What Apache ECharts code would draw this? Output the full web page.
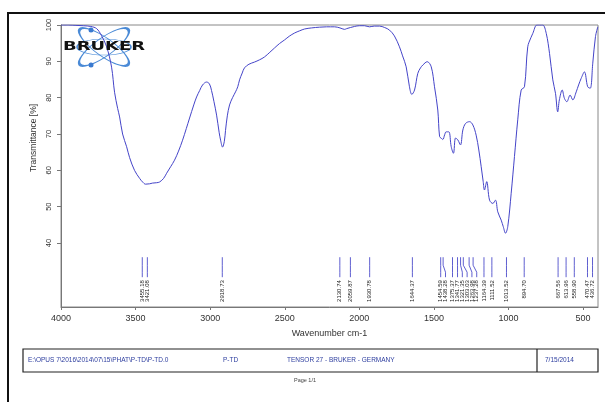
<!DOCTYPE html>
<html>
<head>
<meta charset="utf-8">
<script src="https://cdn.jsdelivr.net/npm/echarts@6/dist/echarts.min.js"></script>
<style>
html,body{margin:0;padding:0;background:#fff;}
#chart{width:605px;height:402px;}
</style>
</head>
<body>
<div id="chart"></div>
<script>
// FT-IR spectrum, wavenumber (cm-1) vs transmittance (%)
const wavenumbers = [4000,3950,3900,3850,3800,3761,3730,3694,3661,3641,3620,3607,3587,3560,3540,3507,3473,3453,3433,3406,3386,3359,3339,3312,3292,3265,3239,3212,3185,3160,3138,3110,3091,3070,3051,3024,3005,2991,2975,2957,2940,2930,2917,2905,2897,2885,2870,2850,2830,2815,2803,2785,2770,2740,2703,2670,2636,2600,2568,2535,2501,2470,2434,2400,2367,2320,2267,2220,2166,2130,2110,2099,2085,2060,2032,2000,1965,1932,1900,1865,1830,1798,1765,1731,1710,1686,1664,1648,1630,1608,1590,1574,1545,1518,1496,1474,1462,1450,1440,1428,1418,1400,1384,1369,1355,1340,1322,1306,1288,1261,1239,1217,1199,1183,1170,1161,1146,1127,1105,1087,1072,1049,1035,1020,1005,982,960,938,915,893,871,850,837,810,790,770,747,725,703,685,670,659,640,625,609,587,569,546,530,513,491,469,452,435,417,401];
const transmittance = [100,100,99.9,99.8,99.6,99.0,97.2,94.0,88.4,81.5,77.0,74.7,70.0,66.5,63.5,60.0,57.8,56.8,56.2,56.3,56.5,56.6,56.8,57.8,59.2,61.0,62.8,65.3,68.3,71.5,74.4,78.0,80.2,82.0,83.5,84.3,83.8,82.0,79.0,75.2,70.5,68.3,66.4,68.0,71.0,75.0,78.0,80.0,81.6,83.0,84.9,86.8,88.2,89.2,89.8,90.4,91.2,92.5,93.7,94.9,95.9,96.9,97.8,98.4,98.9,99.2,99.4,99.5,99.5,99.2,98.9,98.8,99.0,99.3,99.6,99.8,99.8,99.5,99.7,99.7,99.3,98.6,97.0,94.0,91.5,88.5,83.0,80.9,82.1,86.7,88.2,89.0,89.9,88.5,83.0,76.6,69.3,68.8,68.5,69.8,70.6,70.6,66.5,64.7,68.9,68.4,67.0,71.1,72.9,73.4,72.5,69.7,65.6,61.0,57.0,54.6,56.9,51.8,50.9,51.8,48.6,46.3,44.5,42.7,44.5,53.7,63.8,73.9,82.1,83.0,94.0,96.5,97.7,100,100,100,97.7,92.2,84.9,81.2,76.1,79.4,82.1,79.8,78.9,80.7,79.4,81.6,83.5,85.3,87.1,83.0,82.6,89.5,96.8,99.5];

// Picked peaks
const peakWavenumbers = [3455.18,3421.08,2918.73,2130.74,2059.87,1930.78,1644.37,1454.59,1438.28,1375.37,1341.77,1321.35,1303.03,1263.98,1237.28,1164.39,1111.52,1013.52,894.70,667.56,613.96,558.90,470.47,436.72];
const peakLabels = ['3455.18','3421.08','2918.73','2130.74','2059.87','1930.78','1644.37','1454.59','1438.28','1375.37','1341.77','1321.35','1303.03','1263.98','1237.28','1164.39','1111.52','1013.52','894.70','667.56','613.96','558.90','470.47','436.72'];

// Axis ticks
const xTickValues = [4000,3500,3000,2500,2000,1500,1000,500];
const yTickValues = [40,50,60,70,80,90,100];

// Footer texts
const footerPath = 'E:\\OPUS 7\\2016\\2014\\07\\15\\PHAT\\P-TD\\P-TD.0';
const footerSample = 'P-TD';
const footerInstrument = 'TENSOR 27 - BRUKER - GERMANY';
const footerDate = '7/15/2014';
const footerPage = 'Page 1/1';

const MARK_TOP = 36.1;
const MARK_BOTTOM = 30.6;
const LABEL_GAP = 4.8;

const spectrum = wavenumbers.map((w, i) => [w, transmittance[i]]);
const peakData = peakWavenumbers.map((w, i) => [w, MARK_TOP, i]);

const chart = echarts.init(document.getElementById('chart'), null, {renderer: 'canvas'});
const FONT = 'Liberation Sans, Arial, sans-serif';

function renderPeak(params, api) {
  const i = params.dataIndex;
  const xs = peakWavenumbers.map(w => api.coord([w, MARK_TOP])[0]);
  const lx = [];
  xs.forEach((x, k) => lx.push(k === 0 ? x : Math.max(x, lx[k - 1] + LABEL_GAP)));
  const top = api.coord([peakWavenumbers[i], MARK_TOP]);
  const bot = api.coord([peakWavenumbers[i], MARK_BOTTOM]);
  const pts = [[xs[i], top[1]], [xs[i], top[1] + 8], [lx[i], bot[1] - 5], [lx[i], bot[1]]];
  return {
    type: 'group',
    children: [
      {type: 'polyline', shape: {points: pts}, style: {stroke: '#5f5fd0', lineWidth: 1, fill: null}},
      {type: 'text', x: lx[i], y: bot[1] + 3, rotation: Math.PI / 2,
        style: {text: peakLabels[i], font: '6px ' + FONT, fill: '#222', align: 'right', verticalAlign: 'middle'}}
    ]
  };
}

chart.setOption({
  backgroundColor: '#fff',
  animation: false,
  grid: {left: 61, right: 7, top: 25, bottom: 95, show: true, borderColor: '#888', borderWidth: 1, backgroundColor: 'transparent'},
  xAxis: {
    type: 'value', inverse: true, min: 400, max: 4000,
    name: 'Wavenumber cm-1', nameLocation: 'middle', nameGap: 22,
    nameTextStyle: {fontFamily: FONT, fontSize: 9, color: '#333'},
    axisLine: {lineStyle: {color: '#777', width: 1}},
    axisTick: {show: true, length: 3, customValues: xTickValues, lineStyle: {color: '#777'}},
    axisLabel: {customValues: xTickValues, formatter: v => String(v), fontFamily: FONT, fontSize: 9, color: '#333', margin: 7},
    splitLine: {show: false}
  },
  yAxis: {
    type: 'value', min: 22.4, max: 100,
    axisLine: {show: true, lineStyle: {color: '#777', width: 1}},
    axisTick: {show: true, length: 4, customValues: yTickValues, lineStyle: {color: '#777'}},
    axisLabel: {customValues: yTickValues, formatter: v => String(v), rotate: 90, fontFamily: FONT, fontSize: 7.5, color: '#333', margin: 8},
    splitLine: {show: false}
  },
  series: [
    {
      type: 'line', data: spectrum, smooth: 0.35, symbol: 'none',
      lineStyle: {color: '#4444c8', width: 1}, z: 3
    },
    {
      type: 'custom', data: peakData, renderItem: renderPeak,
      encode: {x: 0, y: 1}, silent: true, z: 2
    }
  ],
  graphic: [
    // page frame
    {type: 'line', shape: {x1: 8, y1: 13, x2: 605, y2: 13}, style: {stroke: '#111', lineWidth: 2}},
    {type: 'line', shape: {x1: 8, y1: 12, x2: 8, y2: 402}, style: {stroke: '#111', lineWidth: 2}},
    // y axis title
    {type: 'text', x: 34, y: 138, rotation: Math.PI / 2,
      style: {text: 'Transmittance [%]', font: '8.5px ' + FONT, fill: '#333', align: 'center', verticalAlign: 'middle'}},
    // logo
    {type: 'group', x: 104, y: 47, z: 10, children: [
      {type: 'circle', shape: {cx: 0, cy: 0, r: 30}, scaleX: 1, scaleY: 0.3, rotation: 0.62,
        style: {stroke: '#4a8ad6', lineWidth: 1.6, fill: null, strokeNoScale: true}},
      {type: 'circle', shape: {cx: 0, cy: 0, r: 30}, scaleX: 1, scaleY: 0.3, rotation: -0.62,
        style: {stroke: '#4a8ad6', lineWidth: 1.6, fill: null, strokeNoScale: true}},
      {type: 'circle', shape: {cx: 0, cy: 0, r: 27}, scaleX: 1, scaleY: 0.3, rotation: 0,
        style: {stroke: '#4a8ad6', lineWidth: 1.6, fill: null, strokeNoScale: true}},
      {type: 'circle', shape: {cx: -13, cy: -17, r: 2.5}, style: {fill: '#3a7ad0'}},
      {type: 'circle', shape: {cx: -13, cy: 18, r: 2.5}, style: {fill: '#3a7ad0'}}
    ]},
    {type: 'text', x: 63, y: 47, scaleX: 1.38, z: 11,
      style: {text: 'BRUKER', font: 'bold 13px DejaVu Sans, sans-serif', fill: '#111', align: 'left', verticalAlign: 'middle'}},
    // footer box
    {type: 'rect', shape: {x: 23, y: 349, width: 575, height: 23}, style: {stroke: '#222', lineWidth: 1.2, fill: null}},
    {type: 'line', shape: {x1: 537, y1: 349, x2: 537, y2: 372}, style: {stroke: '#222', lineWidth: 1.2}},
    {type: 'text', x: 28, y: 360.5, style: {text: footerPath, font: '6.5px ' + FONT, fill: '#3040a0', verticalAlign: 'middle'}},
    {type: 'text', x: 223, y: 360.5, style: {text: footerSample, font: '6.5px ' + FONT, fill: '#3040a0', verticalAlign: 'middle'}},
    {type: 'text', x: 287, y: 360.5, style: {text: footerInstrument, font: '6.5px ' + FONT, fill: '#3040a0', verticalAlign: 'middle'}},
    {type: 'text', x: 545, y: 360.5, style: {text: footerDate, font: '6.5px ' + FONT, fill: '#3040a0', verticalAlign: 'middle'}},
    {type: 'text', x: 305, y: 380, style: {text: footerPage, font: '5.5px ' + FONT, fill: '#444', align: 'center', verticalAlign: 'middle'}}
  ]
});
</script>
</body>
</html>
